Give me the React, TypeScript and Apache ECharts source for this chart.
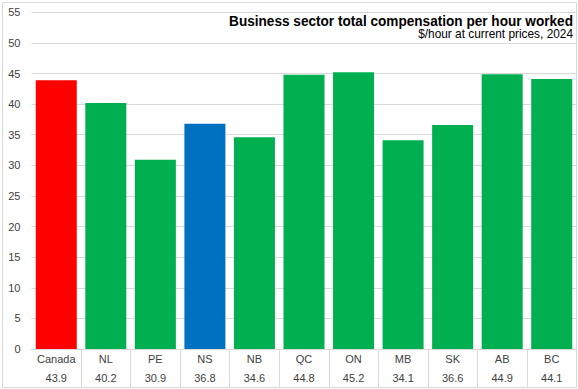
import React, { useEffect, useRef } from "react";
import * as echarts from "echarts";

const categories = ["Canada", "NL", "PE", "NS", "NB", "QC", "ON", "MB", "SK", "AB", "BC"];
const values = [43.9, 40.2, 30.9, 36.8, 34.6, 44.8, 45.2, 34.1, 36.6, 44.9, 44.1];
const barColors = ["#FF0000", "#00B050", "#00B050", "#0070C0", "#00B050", "#00B050", "#00B050", "#00B050", "#00B050", "#00B050", "#00B050"];
const titleText = "Business sector total compensation per hour worked";
const subtitleText = "$/hour at current prices, 2024";

function measure(text: string, font: string): number {
  const c = document.createElement("canvas").getContext("2d");
  if (!c) return 1;
  c.font = font;
  return c.measureText(text).width || 1;
}

export default function App() {
  const ref = useRef<HTMLDivElement>(null);
  useEffect(() => {
    if (!ref.current) return;
    const chart = echarts.init(ref.current, null, { renderer: "svg" });
    const labelMap: Record<string, string> = {};
    categories.forEach((c, i) => (labelMap[c] = values[i].toFixed(1)));
    const titleFont = "bold 15.5px 'Liberation Sans'";
    const subFont = "12.5px 'Liberation Sans'";
    const titleScale = Math.min(1, 344 / measure(titleText, titleFont));
    const subScale = Math.min(1, 155 / measure(subtitleText, subFont));
    chart.setOption({
      animation: false,
      backgroundColor: "#ffffff",
      grid: { left: 31.5, right: 1.5, top: 12.3, bottom: 40 },
      xAxis: {
        type: "category",
        data: categories,
        axisLine: { show: true, lineStyle: { color: "#d9d9d9", width: 1 } },
        axisTick: {
          show: true,
          interval: (i: number) => i !== 0,
          alignWithLabel: false,
          length: 38,
          lineStyle: { color: "#d9d9d9", width: 1 },
        },
        axisLabel: {
          interval: 0,
          margin: 0,
          fontFamily: "Liberation Sans",
          fontSize: 11,
          color: "#404040",
          lineHeight: 19,
          formatter: (v: string) => v + "\n" + labelMap[v],
        },
      },
      yAxis: {
        type: "value",
        min: 0,
        max: 55,
        interval: 5,
        axisLine: { show: false },
        axisTick: { show: false },
        splitLine: { lineStyle: { color: "#d9d9d9", width: 1 } },
        axisLabel: {
          margin: 11,
          fontFamily: "Liberation Sans",
          fontSize: 11,
          color: "#404040",
        },
      },
      series: [
        {
          type: "bar",
          barWidth: 41,
          data: values.map((v, i) => ({ value: v, itemStyle: { color: barColors[i] } })),
        },
      ],
      graphic: [
        {
          type: "text",
          x: 573,
          y: 20.5,
          scaleX: titleScale,
          z: 50,
          style: {
            text: titleText,
            font: titleFont,
            fill: "#000000",
            textAlign: "right",
            textVerticalAlign: "middle",
          },
        },
        {
          type: "text",
          x: 573,
          y: 34,
          scaleX: subScale,
          z: 50,
          style: {
            text: subtitleText,
            font: subFont,
            fill: "#000000",
            textAlign: "right",
            textVerticalAlign: "middle",
          },
        },
        {
          type: "rect",
          shape: { x: 2.5, y: 2.5, width: 574, height: 385 },
          style: { fill: "none", stroke: "#d9d9d9", lineWidth: 1 },
          silent: true,
          z: 100,
        },
      ],
    });
    return () => chart.dispose();
  }, []);
  return (
    <div
      ref={ref}
      style={{ position: "fixed", left: 0, top: 0, width: 578, height: 389 }}
    />
  );
}
